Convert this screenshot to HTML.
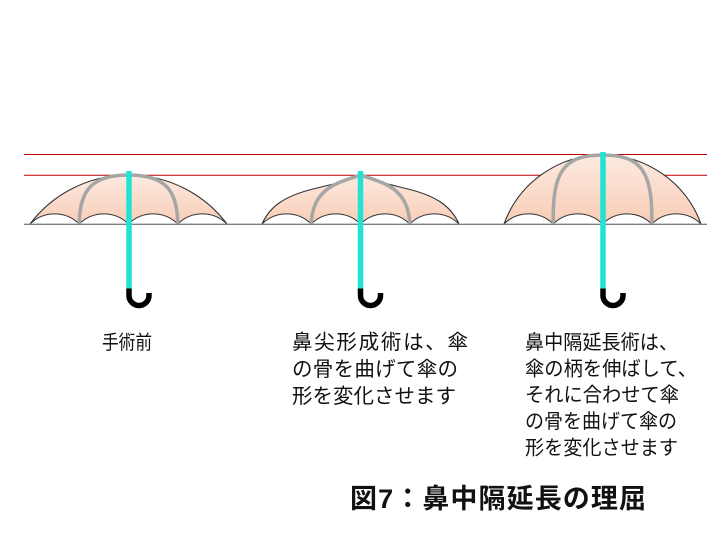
<!DOCTYPE html>
<html>
<head>
<meta charset="utf-8">
<style>
  html, body { margin:0; padding:0; background:#fff; }
  body { width:720px; height:540px; overflow:hidden; }
  svg { display:block; }
  text { font-family: "Liberation Sans", "Noto Sans CJK JP", sans-serif; fill:#111; }
</style>
</head>
<body>
<svg width="720" height="540" viewBox="0 0 720 540" xmlns="http://www.w3.org/2000/svg">
  <defs>
    <linearGradient id="g1" x1="0" y1="0" x2="0" y2="1">
      <stop offset="0" stop-color="#fdeae1"/>
      <stop offset="1" stop-color="#f8cdb6"/>
    </linearGradient>
  </defs>

  <!-- reference lines -->
  <line x1="24" y1="154.5" x2="707" y2="154.5" stroke="#c00000" stroke-width="1"/>
  <line x1="24" y1="175.3" x2="707" y2="175.3" stroke="#c00000" stroke-width="1"/>

  <!-- Umbrella 1 -->
  <path d="M30 224 A123.5 123.5 0 0 1 227 224 A35 35 0 0 0 177.75 224 A35 35 0 0 0 128.5 224 A35 35 0 0 0 79.25 224 A35 35 0 0 0 30 224 Z"
        fill="url(#g1)" stroke="#333" stroke-width="1.1"/>
  <path d="M79.25 224 C79.5 190, 92 175, 128.5 175 M177.75 224 C177.5 190, 165 175, 128.5 175"
        fill="none" stroke="#a6a6a6" stroke-width="3.5"/>

  <!-- Umbrella 2 -->
  <path d="M262 224 C270 206, 285 196, 313 189 C333 184, 348 181, 360.5 175 C373 181, 388 184, 408 189 C436 196, 451 206, 459 224 A35 35 0 0 0 409.75 224 A35 35 0 0 0 360.5 224 A35 35 0 0 0 311.25 224 A35 35 0 0 0 262 224 Z"
        fill="url(#g1)" stroke="#333" stroke-width="1.1"/>
  <path d="M311.25 224 C312 202, 322 190, 338 183 C350 178, 355 177, 360.5 175 M409.75 224 C409 202, 399 190, 383 183 C371 178, 366 177, 360.5 175"
        fill="none" stroke="#a6a6a6" stroke-width="3.5"/>

  <!-- Umbrella 3 -->
  <path d="M504 224 A104.8 104.8 0 0 1 701 224 A35 35 0 0 0 651.75 224 A35 35 0 0 0 602.5 224 A35 35 0 0 0 553.25 224 A35 35 0 0 0 504 224 Z"
        fill="url(#g1)" stroke="#333" stroke-width="1.1"/>
  <path d="M553.25 224 C552 170, 565 155, 602.5 155 M651.75 224 C653 170, 640 155, 602.5 155"
        fill="none" stroke="#a6a6a6" stroke-width="3.5"/>

  <!-- baseline -->
  <line x1="24" y1="224.3" x2="707" y2="224.3" stroke="#7f7f7f" stroke-width="1.3"/>

  <!-- shafts -->
  <line x1="129" y1="171" x2="129" y2="289" stroke="#22e3d2" stroke-width="5.5"/>
  <line x1="360.5" y1="171" x2="360.5" y2="289" stroke="#22e3d2" stroke-width="5.5"/>
  <line x1="603" y1="152" x2="603" y2="289" stroke="#22e3d2" stroke-width="5.5"/>

  <!-- hooks -->
  <path d="M129 288.5 V295.5 A10 10 0 0 0 149 295.5 V293" fill="none" stroke="#000" stroke-width="5.5"/>
  <path d="M360.5 288.5 V295.5 A10 10 0 0 0 380.5 295.5 V293" fill="none" stroke="#000" stroke-width="5.5"/>
  <path d="M603 288.5 V295.5 A10 10 0 0 0 623 295.5 V293" fill="none" stroke="#000" stroke-width="5.5"/>

  <!-- captions -->
  <text x="102" y="349" font-size="19.5" textLength="50" lengthAdjust="spacingAndGlyphs">手術前</text>

  <text x="292" y="349" font-size="20.5" textLength="176" lengthAdjust="spacing">鼻尖形成術は、傘</text>
  <text x="292" y="376" font-size="20.5" textLength="166" lengthAdjust="spacing">の骨を曲げて傘の</text>
  <text x="292" y="403" font-size="20.5" textLength="164" lengthAdjust="spacing">形を変化させます</text>

  <text x="525" y="349" font-size="20" textLength="153" lengthAdjust="spacingAndGlyphs">鼻中隔延長術は、</text>
  <text x="525" y="375.3" font-size="20" textLength="172" lengthAdjust="spacingAndGlyphs">傘の柄を伸ばして、</text>
  <text x="525" y="401.6" font-size="20" textLength="154" lengthAdjust="spacingAndGlyphs">それに合わせて傘</text>
  <text x="525" y="428" font-size="20" textLength="152" lengthAdjust="spacingAndGlyphs">の骨を曲げて傘の</text>
  <text x="525" y="454.3" font-size="20" textLength="153" lengthAdjust="spacingAndGlyphs">形を変化させます</text>

  <!-- title -->
  <text x="350" y="508" font-size="27" font-weight="bold" textLength="296" lengthAdjust="spacing">図7：鼻中隔延長の理屈</text>
</svg>
</body>
</html>
